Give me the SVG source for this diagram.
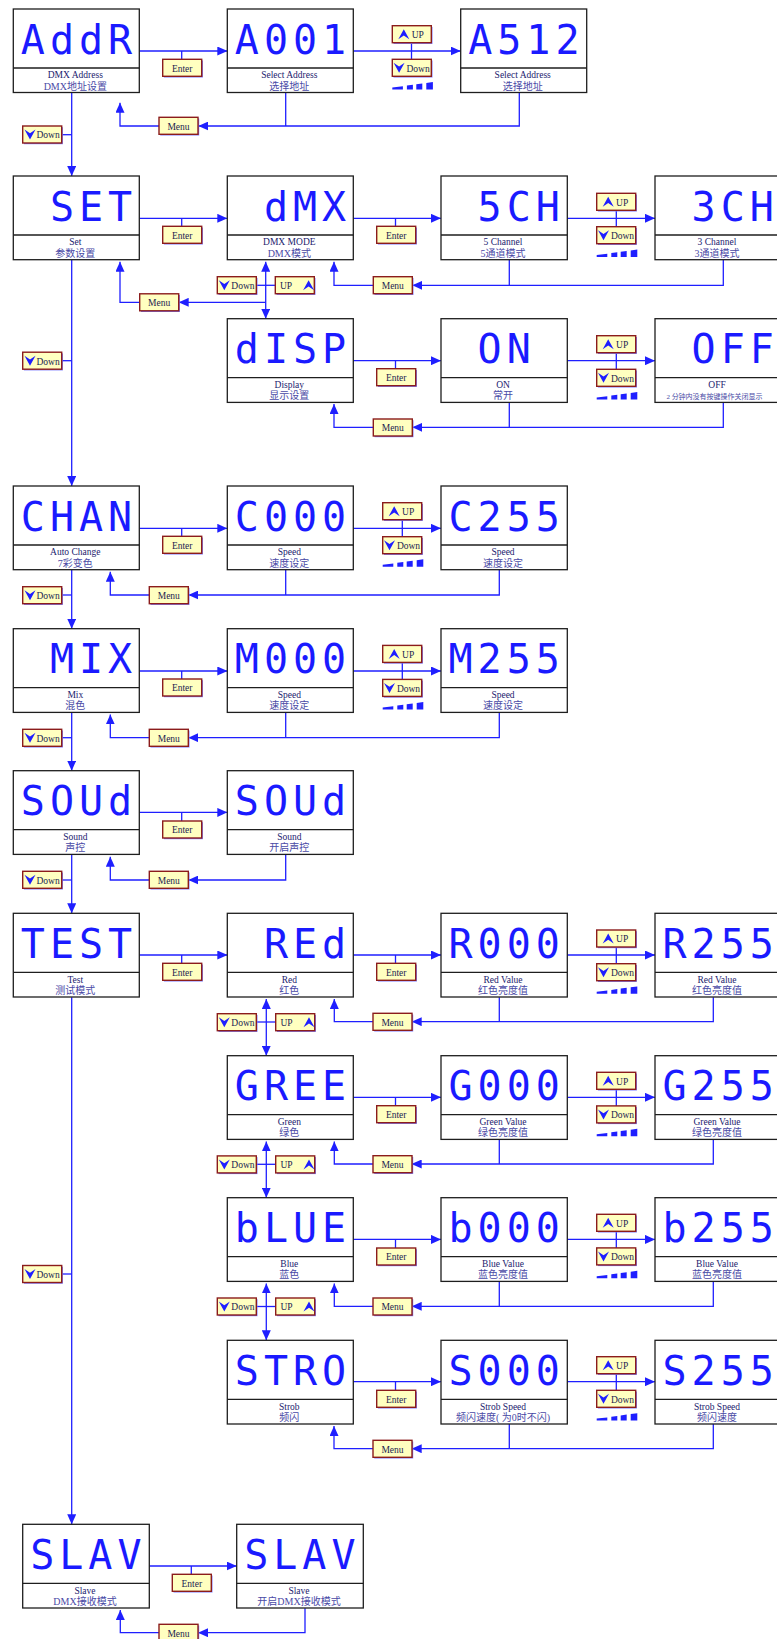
<svg xmlns="http://www.w3.org/2000/svg" xmlns:xlink="http://www.w3.org/1999/xlink" width="777" height="1639" viewBox="0 0 777 1639">
<style>
  .box{fill:#fff;stroke:#1e1e1e;stroke-width:1.3}
  .dv{stroke:#1e1e1e;stroke-width:1.3}
  .seg{font-family:"DejaVu Sans Mono","Liberation Mono",monospace;font-size:40px;fill:#1a1aff;letter-spacing:5px}
  .en{font-family:"Liberation Serif",serif;font-size:9.5px;fill:#22226e;text-anchor:middle}
  .cn{font-family:"Liberation Serif","Noto Sans CJK SC",serif;font-size:10px;fill:#4a4aa6;text-anchor:middle}
  .cns{font-size:7px}
  .ln{fill:none;stroke:#1f1fff;stroke-width:1.3}
  .ar{marker-end:url(#ah)}
  .ar2{marker-start:url(#ah);marker-end:url(#ah)}
  .sh{fill:#7a7aff}
  .btn{fill:#ffffc0;stroke:#8b1c1c;stroke-width:1.4}
  .bt{font-family:"Liberation Serif",serif;font-size:9.5px;fill:#1c1c50}
  .btc{text-anchor:middle}
  .ic{fill:#1f1fff}
</style>
<defs>
  <marker id="ah" viewBox="0 0 10 9" refX="10" refY="4.5" markerWidth="10" markerHeight="9" markerUnits="userSpaceOnUse" orient="auto-start-reverse">
    <path d="M0,0 L10,4.5 L0,9 Z" fill="#1f1fff"/>
  </marker>
  <path id="icoDown" class="ic" d="M-5.5,-5 L0,-1.2 L5.5,-5 L0,5 Z"/>
  <path id="icoUp" class="ic" d="M-5.5,5 L0,1.2 L5.5,5 L0,-5 Z"/>
  <!-- button frame: shadow + yellow face -->
  <g id="btnFrame">
    <rect class="sh" x="1.2" y="1.2" width="39" height="17"/>
    <rect class="btn" x="0" y="0" width="39" height="17"/>
  </g>
  <!-- rising level bars under Up/Down pairs -->
  <g id="bars" class="ic">
    <polygon points="0,0 10.6,0 10.6,-3.2 0,-2"/>
    <polygon points="14.6,0 20.6,0 20.6,-4.7 14.6,-3.9"/>
    <polygon points="24,0 30,0 30,-6 24,-5.2"/>
    <polygon points="34,0 40.6,0 40.6,-7.4 34,-6.5"/>
  </g>
</defs>

<rect width="777" height="1639" fill="#fff"/>

<!-- ===== connectors ===== -->
<g id="connectors">
  <!-- row: address -->
  <path class="ln ar" d="M139.3,51 H227.3"/>
  <path class="ln" d="M181.7,51 V59.3"/>
  <path class="ln ar" d="M353.3,51 H460.7"/>
  <path class="ln" d="M411.5,42.7 V59.3"/>
  <path class="ln ar" d="M519.3,92.7 V126 H198.3"/>
  <path class="ln" d="M285.7,92.7 V126"/>
  <path class="ln ar" d="M159,126 H120 V102.7"/>
  <path class="ln ar" d="M71.7,92.7 V176"/>
  <path class="ln" d="M61.7,134.7 H71.7"/>

  <!-- row: set / dmx mode -->
  <path class="ln ar" d="M139.3,218.3 H227.3"/>
  <path class="ln" d="M181.7,218.3 V226.3"/>
  <path class="ln ar" d="M353.3,218.3 H441"/>
  <path class="ln" d="M395.5,218.3 V226.3"/>
  <path class="ln ar" d="M567.3,218.3 H655"/>
  <path class="ln" d="M616.3,210.3 V226.7"/>
  <path class="ln" d="M509.3,260 V285.3"/>
  <path class="ln ar" d="M723.3,260 V285.3 H412.3"/>
  <path class="ln ar" d="M373.3,285.3 H334 V261.7"/>
  <path class="ln ar2" d="M265.7,261.7 V318.7"/>
  <path class="ln" d="M256,285.3 H275.3"/>
  <path class="ln ar" d="M265.7,302.3 H178.7"/>
  <path class="ln ar" d="M139.7,302.3 H120 V261.7"/>
  <path class="ln ar" d="M71.7,260 V486"/>
  <path class="ln" d="M61.7,360.7 H71.7"/>

  <!-- row: display -->
  <path class="ln ar" d="M353.3,360.7 H441"/>
  <path class="ln" d="M395.5,360.7 V368.7"/>
  <path class="ln ar" d="M567.3,360.7 H655"/>
  <path class="ln" d="M616.3,352.7 V369.3"/>
  <path class="ln" d="M509.3,402.3 V427.3"/>
  <path class="ln ar" d="M723.3,402.3 V427.3 H412.3"/>
  <path class="ln ar" d="M373.3,427.3 H334 V404"/>

  <!-- row: auto change -->
  <path class="ln ar" d="M139.3,528.3 H227.3"/>
  <path class="ln" d="M181.7,528.3 V536.3"/>
  <path class="ln ar" d="M353.3,528.3 H441"/>
  <path class="ln" d="M402.3,519.7 V536.7"/>
  <path class="ln" d="M285.7,570 V595"/>
  <path class="ln ar" d="M499.3,570 V595 H188.3"/>
  <path class="ln ar" d="M149.3,595 H110.3 V571.7"/>
  <path class="ln ar" d="M71.7,570 V628.7"/>
  <path class="ln" d="M61.7,595 H71.7"/>

  <!-- row: mix -->
  <path class="ln ar" d="M139.3,671 H227.3"/>
  <path class="ln" d="M181.7,671 V679"/>
  <path class="ln ar" d="M353.3,671 H441"/>
  <path class="ln" d="M402.3,662.4 V679.4"/>
  <path class="ln" d="M285.7,712.7 V737.7"/>
  <path class="ln ar" d="M499.3,712.7 V737.7 H188.3"/>
  <path class="ln ar" d="M149.3,737.7 H110.3 V714.4"/>
  <path class="ln ar" d="M71.7,712.7 V770.7"/>
  <path class="ln" d="M61.7,737.7 H71.7"/>

  <!-- row: sound -->
  <path class="ln ar" d="M139.3,812.4 H227.3"/>
  <path class="ln" d="M181.7,812.4 V821"/>
  <path class="ln ar" d="M285.7,854.7 V880 H188.3"/>
  <path class="ln ar" d="M149.3,880 H110.3 V856.7"/>
  <path class="ln ar" d="M71.7,854.7 V913.3"/>
  <path class="ln" d="M61.7,880 H71.7"/>

  <!-- row: test / red -->
  <path class="ln ar" d="M139.3,955 H227.3"/>
  <path class="ln" d="M181.7,955 V963.3"/>
  <path class="ln ar" d="M353.3,955 H441"/>
  <path class="ln" d="M395.5,955 V963.3"/>
  <path class="ln ar" d="M567.3,955 H655"/>
  <path class="ln" d="M616.3,947 V963.7"/>
  <path class="ln" d="M499.3,997.3 V1021.7"/>
  <path class="ln ar" d="M713.3,997.3 V1021.7 H411.7"/>
  <path class="ln ar" d="M373,1021.7 H334.3 V999"/>
  <path class="ln ar2" d="M266.3,999 V1055.7"/>
  <path class="ln" d="M256.3,1022 H275.7"/>
  <path class="ln ar" d="M71.7,997.3 V1524.3"/>
  <path class="ln" d="M61.7,1274 H71.7"/>

  <!-- row: green -->
  <path class="ln ar" d="M353.3,1097.3 H441"/>
  <path class="ln" d="M395.5,1097.3 V1105.7"/>
  <path class="ln ar" d="M567.3,1097.3 H655"/>
  <path class="ln" d="M616.3,1089.3 V1105.9"/>
  <path class="ln" d="M499.3,1139.7 V1164"/>
  <path class="ln ar" d="M713.3,1139.7 V1164 H411.7"/>
  <path class="ln ar" d="M373,1164 H334.3 V1141.4"/>
  <path class="ln ar2" d="M266.3,1141.4 V1197.7"/>
  <path class="ln" d="M256.3,1164.3 H275.7"/>

  <!-- row: blue -->
  <path class="ln ar" d="M353.3,1239.4 H441"/>
  <path class="ln" d="M395.5,1239.4 V1248"/>
  <path class="ln ar" d="M567.3,1239.4 H655"/>
  <path class="ln" d="M616.3,1231.3 V1247.9"/>
  <path class="ln" d="M499.3,1281.7 V1306.3"/>
  <path class="ln ar" d="M713.3,1281.7 V1306.3 H411.7"/>
  <path class="ln ar" d="M373,1306.3 H334.3 V1283.4"/>
  <path class="ln ar2" d="M266.3,1283.4 V1340.3"/>
  <path class="ln" d="M256.3,1306.5 H275.7"/>

  <!-- row: strobe -->
  <path class="ln ar" d="M353.3,1381.7 H441"/>
  <path class="ln" d="M395.5,1381.7 V1390.3"/>
  <path class="ln ar" d="M567.3,1381.7 H655"/>
  <path class="ln" d="M616.3,1373.7 V1390.3"/>
  <path class="ln" d="M509.3,1424 V1448.7"/>
  <path class="ln ar" d="M713.3,1424 V1448.7 H411.7"/>
  <path class="ln ar" d="M373,1448.7 H334 V1426"/>

  <!-- row: slave -->
  <path class="ln ar" d="M149.3,1566 H236.7"/>
  <path class="ln" d="M191.3,1566 V1574.3"/>
  <path class="ln ar" d="M305,1608.3 V1632.7 H198"/>
  <path class="ln ar" d="M159,1632.7 H120.3 V1610"/>
</g>

<!-- ===== key buttons ===== -->
<g id="keys">
  <!-- Enter -->
  <g id="key-enter">
    <use xlink:href="#btnFrame" x="162.7" y="59.3"/><text class="bt btc" x="182.2" y="71.6">Enter</text>
    <use xlink:href="#btnFrame" x="162.7" y="226.3"/><text class="bt btc" x="182.2" y="238.6">Enter</text>
    <use xlink:href="#btnFrame" x="376.7" y="226.3"/><text class="bt btc" x="396.2" y="238.6">Enter</text>
    <use xlink:href="#btnFrame" x="376.7" y="368.7"/><text class="bt btc" x="396.2" y="381">Enter</text>
    <use xlink:href="#btnFrame" x="162.7" y="536.3"/><text class="bt btc" x="182.2" y="548.6">Enter</text>
    <use xlink:href="#btnFrame" x="162.7" y="679"/><text class="bt btc" x="182.2" y="691.3">Enter</text>
    <use xlink:href="#btnFrame" x="162.7" y="821"/><text class="bt btc" x="182.2" y="833.3">Enter</text>
    <use xlink:href="#btnFrame" x="162.7" y="963.3"/><text class="bt btc" x="182.2" y="975.6">Enter</text>
    <use xlink:href="#btnFrame" x="376.7" y="963.3"/><text class="bt btc" x="396.2" y="975.6">Enter</text>
    <use xlink:href="#btnFrame" x="376.7" y="1105.7"/><text class="bt btc" x="396.2" y="1118">Enter</text>
    <use xlink:href="#btnFrame" x="376.7" y="1248"/><text class="bt btc" x="396.2" y="1260.3">Enter</text>
    <use xlink:href="#btnFrame" x="376.7" y="1390.3"/><text class="bt btc" x="396.2" y="1402.6">Enter</text>
    <use xlink:href="#btnFrame" x="172.3" y="1574.3"/><text class="bt btc" x="191.8" y="1586.6">Enter</text>
  </g>
  <!-- Menu -->
  <g id="key-menu">
    <use xlink:href="#btnFrame" x="159" y="117.3"/><text class="bt btc" x="178.5" y="129.6">Menu</text>
    <use xlink:href="#btnFrame" x="373.3" y="276.7"/><text class="bt btc" x="392.8" y="289">Menu</text>
    <use xlink:href="#btnFrame" x="139.7" y="293.8"/><text class="bt btc" x="159.2" y="306.1">Menu</text>
    <use xlink:href="#btnFrame" x="373.3" y="419"/><text class="bt btc" x="392.8" y="431.3">Menu</text>
    <use xlink:href="#btnFrame" x="149.3" y="586.7"/><text class="bt btc" x="168.8" y="599">Menu</text>
    <use xlink:href="#btnFrame" x="149.3" y="729.3"/><text class="bt btc" x="168.8" y="741.6">Menu</text>
    <use xlink:href="#btnFrame" x="149.3" y="871.3"/><text class="bt btc" x="168.8" y="883.6">Menu</text>
    <use xlink:href="#btnFrame" x="373" y="1013.3"/><text class="bt btc" x="392.5" y="1025.6">Menu</text>
    <use xlink:href="#btnFrame" x="373" y="1155.7"/><text class="bt btc" x="392.5" y="1168">Menu</text>
    <use xlink:href="#btnFrame" x="373" y="1298"/><text class="bt btc" x="392.5" y="1310.3">Menu</text>
    <use xlink:href="#btnFrame" x="373" y="1440.3"/><text class="bt btc" x="392.5" y="1452.6">Menu</text>
    <use xlink:href="#btnFrame" x="159" y="1624.3"/><text class="bt btc" x="178.5" y="1636.6">Menu</text>
  </g>
  <!-- Down on the main column -->
  <g id="key-down-main">
    <use xlink:href="#btnFrame" x="22.7" y="126"/><use xlink:href="#icoDown" x="30" y="134.5"/><text class="bt" x="36.5" y="138.3">Down</text>
    <use xlink:href="#btnFrame" x="22.7" y="352.2"/><use xlink:href="#icoDown" x="30" y="360.7"/><text class="bt" x="36.5" y="364.5">Down</text>
    <use xlink:href="#btnFrame" x="22.7" y="586.7"/><use xlink:href="#icoDown" x="30" y="595.2"/><text class="bt" x="36.5" y="599">Down</text>
    <use xlink:href="#btnFrame" x="22.7" y="729.3"/><use xlink:href="#icoDown" x="30" y="737.8"/><text class="bt" x="36.5" y="741.6">Down</text>
    <use xlink:href="#btnFrame" x="22.7" y="871.3"/><use xlink:href="#icoDown" x="30" y="879.8"/><text class="bt" x="36.5" y="883.6">Down</text>
    <use xlink:href="#btnFrame" x="22.7" y="1265.5"/><use xlink:href="#icoDown" x="30" y="1274"/><text class="bt" x="36.5" y="1277.8">Down</text>
  </g>
  <!-- stacked UP / Down with level bars -->
  <g id="key-updown-stack">
    <use xlink:href="#btnFrame" x="392.3" y="25.7"/><use xlink:href="#icoUp" x="403.8" y="34.2"/><text class="bt" x="411.7" y="38">UP</text>
    <use xlink:href="#btnFrame" x="392.3" y="59.3"/><use xlink:href="#icoDown" x="399.1" y="67.8"/><text class="bt" x="406.5" y="71.6">Down</text>
    <use xlink:href="#bars" x="392.3" y="89.5"/>

    <use xlink:href="#btnFrame" x="596.7" y="193.3"/><use xlink:href="#icoUp" x="608.2" y="201.8"/><text class="bt" x="616.1" y="205.6">UP</text>
    <use xlink:href="#btnFrame" x="596.7" y="226.7"/><use xlink:href="#icoDown" x="603.5" y="235.2"/><text class="bt" x="610.9" y="239">Down</text>
    <use xlink:href="#bars" x="596.7" y="256.9"/>

    <use xlink:href="#btnFrame" x="596.7" y="335.7"/><use xlink:href="#icoUp" x="608.2" y="344.2"/><text class="bt" x="616.1" y="348">UP</text>
    <use xlink:href="#btnFrame" x="596.7" y="369.3"/><use xlink:href="#icoDown" x="603.5" y="377.8"/><text class="bt" x="610.9" y="381.6">Down</text>
    <use xlink:href="#bars" x="596.7" y="399.5"/>

    <use xlink:href="#btnFrame" x="382.7" y="502.7"/><use xlink:href="#icoUp" x="394.2" y="511.2"/><text class="bt" x="402.1" y="515">UP</text>
    <use xlink:href="#btnFrame" x="382.7" y="536.7"/><use xlink:href="#icoDown" x="389.5" y="545.2"/><text class="bt" x="396.9" y="549">Down</text>
    <use xlink:href="#bars" x="382.7" y="566.7"/>

    <use xlink:href="#btnFrame" x="382.7" y="645.4"/><use xlink:href="#icoUp" x="394.2" y="653.9"/><text class="bt" x="402.1" y="657.7">UP</text>
    <use xlink:href="#btnFrame" x="382.7" y="679.4"/><use xlink:href="#icoDown" x="389.5" y="687.9"/><text class="bt" x="396.9" y="691.7">Down</text>
    <use xlink:href="#bars" x="382.7" y="709.4"/>

    <use xlink:href="#btnFrame" x="596.7" y="930"/><use xlink:href="#icoUp" x="608.2" y="938.5"/><text class="bt" x="616.1" y="942.3">UP</text>
    <use xlink:href="#btnFrame" x="596.7" y="963.7"/><use xlink:href="#icoDown" x="603.5" y="972.2"/><text class="bt" x="610.9" y="976">Down</text>
    <use xlink:href="#bars" x="596.7" y="993.8"/>

    <use xlink:href="#btnFrame" x="596.7" y="1072.3"/><use xlink:href="#icoUp" x="608.2" y="1080.8"/><text class="bt" x="616.1" y="1084.6">UP</text>
    <use xlink:href="#btnFrame" x="596.7" y="1105.9"/><use xlink:href="#icoDown" x="603.5" y="1114.4"/><text class="bt" x="610.9" y="1118.2">Down</text>
    <use xlink:href="#bars" x="596.7" y="1136.2"/>

    <use xlink:href="#btnFrame" x="596.7" y="1214.3"/><use xlink:href="#icoUp" x="608.2" y="1222.8"/><text class="bt" x="616.1" y="1226.6">UP</text>
    <use xlink:href="#btnFrame" x="596.7" y="1247.9"/><use xlink:href="#icoDown" x="603.5" y="1256.4"/><text class="bt" x="610.9" y="1260.2">Down</text>
    <use xlink:href="#bars" x="596.7" y="1278.2"/>

    <use xlink:href="#btnFrame" x="596.7" y="1356.7"/><use xlink:href="#icoUp" x="608.2" y="1365.2"/><text class="bt" x="616.1" y="1369">UP</text>
    <use xlink:href="#btnFrame" x="596.7" y="1390.3"/><use xlink:href="#icoDown" x="603.5" y="1398.8"/><text class="bt" x="610.9" y="1402.6">Down</text>
    <use xlink:href="#bars" x="596.7" y="1420.6"/>
  </g>
  <!-- side-by-side Down / UP between sub-menus -->
  <g id="key-downup-pair">
    <use xlink:href="#btnFrame" x="217.3" y="276.7"/><use xlink:href="#icoDown" x="224.3" y="285.2"/><text class="bt" x="231.3" y="289">Down</text>
    <use xlink:href="#btnFrame" x="275.3" y="276.7"/><text class="bt" x="280" y="289">UP</text><use xlink:href="#icoUp" x="308.6" y="285.2"/>

    <use xlink:href="#btnFrame" x="217.3" y="1013.7"/><use xlink:href="#icoDown" x="224.3" y="1022.2"/><text class="bt" x="231.3" y="1026">Down</text>
    <use xlink:href="#btnFrame" x="275.7" y="1013.7"/><text class="bt" x="280.4" y="1026">UP</text><use xlink:href="#icoUp" x="309" y="1022.2"/>

    <use xlink:href="#btnFrame" x="217.3" y="1155.9"/><use xlink:href="#icoDown" x="224.3" y="1164.4"/><text class="bt" x="231.3" y="1168.2">Down</text>
    <use xlink:href="#btnFrame" x="275.7" y="1155.9"/><text class="bt" x="280.4" y="1168.2">UP</text><use xlink:href="#icoUp" x="309" y="1164.4"/>

    <use xlink:href="#btnFrame" x="217.3" y="1298"/><use xlink:href="#icoDown" x="224.3" y="1306.5"/><text class="bt" x="231.3" y="1310.3">Down</text>
    <use xlink:href="#btnFrame" x="275.7" y="1298"/><text class="bt" x="280.4" y="1310.3">UP</text><use xlink:href="#icoUp" x="309" y="1306.5"/>
  </g>
</g>

<!-- ===== display nodes ===== -->
<g id="node-addr"><rect class="box" x="13.3" y="9" width="126" height="83.5"/><line class="dv" x1="13.3" y1="68" x2="139.3" y2="68"/>
  <text class="seg" x="20.8" y="53.7">AddR</text><text class="en" x="75.3" y="78.3">DMX Address</text><text class="cn" x="75.3" y="89.6">DMX地址设置</text></g>
<g id="node-a001"><rect class="box" x="227.3" y="9" width="126" height="83.5"/><line class="dv" x1="227.3" y1="68" x2="353.3" y2="68"/>
  <text class="seg" x="234.8" y="53.7">A001</text><text class="en" x="289.3" y="78.3">Select Address</text><text class="cn" x="289.3" y="89.6">选择地址</text></g>
<g id="node-a512"><rect class="box" x="460.7" y="9" width="126" height="83.5"/><line class="dv" x1="460.7" y1="68" x2="586.7" y2="68"/>
  <text class="seg" x="468.2" y="53.7">A512</text><text class="en" x="522.7" y="78.3">Select Address</text><text class="cn" x="522.7" y="89.6">选择地址</text></g>

<g id="node-set"><rect class="box" x="13.3" y="176" width="126" height="83.7"/><line class="dv" x1="13.3" y1="235" x2="139.3" y2="235"/>
  <text class="seg" x="49.9" y="220.7">SET</text><text class="en" x="75.3" y="245.3">Set</text><text class="cn" x="75.3" y="256.6">参数设置</text></g>
<g id="node-dmx"><rect class="box" x="227.3" y="176" width="126" height="83.7"/><line class="dv" x1="227.3" y1="235" x2="353.3" y2="235"/>
  <text class="seg" x="263.9" y="220.7">dMX</text><text class="en" x="289.3" y="245.3">DMX MODE</text><text class="cn" x="289.3" y="256.6">DMX模式</text></g>
<g id="node-5ch"><rect class="box" x="441" y="176" width="126.3" height="83.7"/><line class="dv" x1="441" y1="235" x2="567.3" y2="235"/>
  <text class="seg" x="477.6" y="220.7">5CH</text><text class="en" x="503" y="245.3">5 Channel</text><text class="cn" x="503" y="256.6">5通道模式</text></g>
<g id="node-3ch"><rect class="box" x="655" y="176" width="126.3" height="83.7"/><line class="dv" x1="655" y1="235" x2="781.3" y2="235"/>
  <text class="seg" x="691.6" y="220.7">3CH</text><text class="en" x="717" y="245.3">3 Channel</text><text class="cn" x="717" y="256.6">3通道模式</text></g>

<g id="node-disp"><rect class="box" x="227.3" y="318.7" width="126" height="83.7"/><line class="dv" x1="227.3" y1="377.7" x2="353.3" y2="377.7"/>
  <text class="seg" x="234.8" y="363.4">dISP</text><text class="en" x="289.3" y="388">Display</text><text class="cn" x="289.3" y="399.3">显示设置</text></g>
<g id="node-on"><rect class="box" x="441" y="318.7" width="126.3" height="83.7"/><line class="dv" x1="441" y1="377.7" x2="567.3" y2="377.7"/>
  <text class="seg" x="477.6" y="363.4">ON</text><text class="en" x="503" y="388">ON</text><text class="cn" x="503" y="399.3">常开</text></g>
<g id="node-off"><rect class="box" x="655" y="318.7" width="126.3" height="83.7"/><line class="dv" x1="655" y1="377.7" x2="781.3" y2="377.7"/>
  <text class="seg" x="691.6" y="363.4">OFF</text><text class="en" x="717" y="388">OFF</text><text class="cn cns" x="714.5" y="398.6">2 分钟内没有按键操作关闭显示</text></g>

<g id="node-chan"><rect class="box" x="13.3" y="486" width="126" height="83.7"/><line class="dv" x1="13.3" y1="545" x2="139.3" y2="545"/>
  <text class="seg" x="20.8" y="530.7">CHAN</text><text class="en" x="75.3" y="555.3">Auto Change</text><text class="cn" x="75.3" y="566.6">7彩变色</text></g>
<g id="node-c000"><rect class="box" x="227.3" y="486" width="126" height="83.7"/><line class="dv" x1="227.3" y1="545" x2="353.3" y2="545"/>
  <text class="seg" x="234.8" y="530.7">C000</text><text class="en" x="289.3" y="555.3">Speed</text><text class="cn" x="289.3" y="566.6">速度设定</text></g>
<g id="node-c255"><rect class="box" x="441" y="486" width="126.3" height="83.7"/><line class="dv" x1="441" y1="545" x2="567.3" y2="545"/>
  <text class="seg" x="448.5" y="530.7">C255</text><text class="en" x="503" y="555.3">Speed</text><text class="cn" x="503" y="566.6">速度设定</text></g>

<g id="node-mix"><rect class="box" x="13.3" y="628.7" width="126" height="83.7"/><line class="dv" x1="13.3" y1="687.7" x2="139.3" y2="687.7"/>
  <text class="seg" x="49.9" y="673.4">MIX</text><text class="en" x="75.3" y="698">Mix</text><text class="cn" x="75.3" y="709.3">混色</text></g>
<g id="node-m000"><rect class="box" x="227.3" y="628.7" width="126" height="83.7"/><line class="dv" x1="227.3" y1="687.7" x2="353.3" y2="687.7"/>
  <text class="seg" x="234.8" y="673.4">M000</text><text class="en" x="289.3" y="698">Speed</text><text class="cn" x="289.3" y="709.3">速度设定</text></g>
<g id="node-m255"><rect class="box" x="441" y="628.7" width="126.3" height="83.7"/><line class="dv" x1="441" y1="687.7" x2="567.3" y2="687.7"/>
  <text class="seg" x="448.5" y="673.4">M255</text><text class="en" x="503" y="698">Speed</text><text class="cn" x="503" y="709.3">速度设定</text></g>

<g id="node-soud"><rect class="box" x="13.3" y="770.7" width="126" height="83.7"/><line class="dv" x1="13.3" y1="829.7" x2="139.3" y2="829.7"/>
  <text class="seg" x="20.8" y="815.4">SOUd</text><text class="en" x="75.3" y="840">Sound</text><text class="cn" x="75.3" y="851.3">声控</text></g>
<g id="node-soud-on"><rect class="box" x="227.3" y="770.7" width="126" height="83.7"/><line class="dv" x1="227.3" y1="829.7" x2="353.3" y2="829.7"/>
  <text class="seg" x="234.8" y="815.4">SOUd</text><text class="en" x="289.3" y="840">Sound</text><text class="cn" x="289.3" y="851.3">开启声控</text></g>

<g id="node-test"><rect class="box" x="13.3" y="913.3" width="126" height="83.7"/><line class="dv" x1="13.3" y1="972.3" x2="139.3" y2="972.3"/>
  <text class="seg" x="20.8" y="958">TEST</text><text class="en" x="75.3" y="982.6">Test</text><text class="cn" x="75.3" y="993.9">测试模式</text></g>
<g id="node-red"><rect class="box" x="227.3" y="913.3" width="126" height="83.7"/><line class="dv" x1="227.3" y1="972.3" x2="353.3" y2="972.3"/>
  <text class="seg" x="263.9" y="958">REd</text><text class="en" x="289.3" y="982.6">Red</text><text class="cn" x="289.3" y="993.9">红色</text></g>
<g id="node-r000"><rect class="box" x="441" y="913.3" width="126.3" height="83.7"/><line class="dv" x1="441" y1="972.3" x2="567.3" y2="972.3"/>
  <text class="seg" x="448.5" y="958">R000</text><text class="en" x="503" y="982.6">Red Value</text><text class="cn" x="503" y="993.9">红色亮度值</text></g>
<g id="node-r255"><rect class="box" x="655" y="913.3" width="126.3" height="83.7"/><line class="dv" x1="655" y1="972.3" x2="781.3" y2="972.3"/>
  <text class="seg" x="662.5" y="958">R255</text><text class="en" x="717" y="982.6">Red Value</text><text class="cn" x="717" y="993.9">红色亮度值</text></g>

<g id="node-gree"><rect class="box" x="227.3" y="1055.7" width="126" height="83.7"/><line class="dv" x1="227.3" y1="1114.7" x2="353.3" y2="1114.7"/>
  <text class="seg" x="234.8" y="1100.4">GREE</text><text class="en" x="289.3" y="1125">Green</text><text class="cn" x="289.3" y="1136.3">绿色</text></g>
<g id="node-g000"><rect class="box" x="441" y="1055.7" width="126.3" height="83.7"/><line class="dv" x1="441" y1="1114.7" x2="567.3" y2="1114.7"/>
  <text class="seg" x="448.5" y="1100.4">G000</text><text class="en" x="503" y="1125">Green Value</text><text class="cn" x="503" y="1136.3">绿色亮度值</text></g>
<g id="node-g255"><rect class="box" x="655" y="1055.7" width="126.3" height="83.7"/><line class="dv" x1="655" y1="1114.7" x2="781.3" y2="1114.7"/>
  <text class="seg" x="662.5" y="1100.4">G255</text><text class="en" x="717" y="1125">Green Value</text><text class="cn" x="717" y="1136.3">绿色亮度值</text></g>

<g id="node-blue"><rect class="box" x="227.3" y="1197.7" width="126" height="83.7"/><line class="dv" x1="227.3" y1="1256.7" x2="353.3" y2="1256.7"/>
  <text class="seg" x="234.8" y="1242.4">bLUE</text><text class="en" x="289.3" y="1267">Blue</text><text class="cn" x="289.3" y="1278.3">蓝色</text></g>
<g id="node-b000"><rect class="box" x="441" y="1197.7" width="126.3" height="83.7"/><line class="dv" x1="441" y1="1256.7" x2="567.3" y2="1256.7"/>
  <text class="seg" x="448.5" y="1242.4">b000</text><text class="en" x="503" y="1267">Blue Value</text><text class="cn" x="503" y="1278.3">蓝色亮度值</text></g>
<g id="node-b255"><rect class="box" x="655" y="1197.7" width="126.3" height="83.7"/><line class="dv" x1="655" y1="1256.7" x2="781.3" y2="1256.7"/>
  <text class="seg" x="662.5" y="1242.4">b255</text><text class="en" x="717" y="1267">Blue Value</text><text class="cn" x="717" y="1278.3">蓝色亮度值</text></g>

<g id="node-stro"><rect class="box" x="227.3" y="1340.3" width="126" height="83.7"/><line class="dv" x1="227.3" y1="1399.3" x2="353.3" y2="1399.3"/>
  <text class="seg" x="234.8" y="1385">STRO</text><text class="en" x="289.3" y="1409.6">Strob</text><text class="cn" x="289.3" y="1420.9">频闪</text></g>
<g id="node-s000"><rect class="box" x="441" y="1340.3" width="126.3" height="83.7"/><line class="dv" x1="441" y1="1399.3" x2="567.3" y2="1399.3"/>
  <text class="seg" x="448.5" y="1385">S000</text><text class="en" x="503" y="1409.6">Strob Speed</text><text class="cn" x="503" y="1420.9">频闪速度( 为0时不闪)</text></g>
<g id="node-s255"><rect class="box" x="655" y="1340.3" width="126.3" height="83.7"/><line class="dv" x1="655" y1="1399.3" x2="781.3" y2="1399.3"/>
  <text class="seg" x="662.5" y="1385">S255</text><text class="en" x="717" y="1409.6">Strob Speed</text><text class="cn" x="717" y="1420.9">频闪速度</text></g>

<g id="node-slav"><rect class="box" x="22.7" y="1524.3" width="126.6" height="83.7"/><line class="dv" x1="22.7" y1="1583.3" x2="149.3" y2="1583.3"/>
  <text class="seg" x="30.2" y="1569">SLAV</text><text class="en" x="85" y="1593.6">Slave</text><text class="cn" x="85" y="1604.9">DMX接收模式</text></g>
<g id="node-slav-on"><rect class="box" x="236.7" y="1524.3" width="126.6" height="83.7"/><line class="dv" x1="236.7" y1="1583.3" x2="363.3" y2="1583.3"/>
  <text class="seg" x="244.2" y="1569">SLAV</text><text class="en" x="299" y="1593.6">Slave</text><text class="cn" x="299" y="1604.9">开启DMX接收模式</text></g>
</svg>
